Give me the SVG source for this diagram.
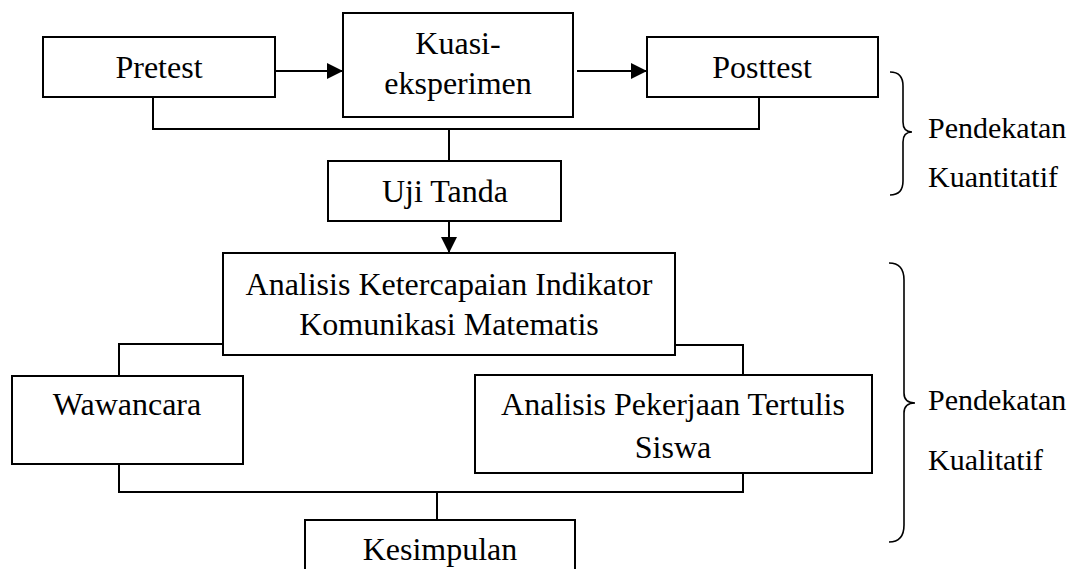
<svg xmlns="http://www.w3.org/2000/svg" width="1083" height="569" viewBox="0 0 1083 569">
<style>
.box{fill:#fff;stroke:#000;stroke-width:2}
.t{font-family:"Liberation Serif","Times New Roman",serif;font-size:32px;fill:#000;text-anchor:middle}
.tl{font-family:"Liberation Serif","Times New Roman",serif;font-size:30px;fill:#000}
.c{fill:none;stroke:#000;stroke-width:2}
.br{fill:none;stroke:#000;stroke-width:1.6}
</style>
<defs>
<marker id="ah" markerWidth="16" markerHeight="16" refX="16" refY="8" orient="auto" markerUnits="userSpaceOnUse">
<path d="M0,0 L16,8 L0,16 Z" fill="#000"/>
</marker>
</defs>
<g id="connectors">
<line class="c" x1="275" y1="71" x2="343" y2="71" marker-end="url(#ah)"/>
<line class="c" x1="577" y1="71" x2="647" y2="71" marker-end="url(#ah)"/>
<polyline class="c" points="153,97 153,129 759,129 759,97"/>
<line class="c" x1="449" y1="129" x2="449" y2="161"/>
<line class="c" x1="449" y1="221" x2="449" y2="253" marker-end="url(#ah)"/>
<polyline class="c" points="119,376 119,344 223,344"/>
<polyline class="c" points="675,345 743,345 743,375"/>
<polyline class="c" points="119,464 119,492 743,492 743,473"/>
<line class="c" x1="437" y1="492" x2="437" y2="520"/>
</g>
<g id="pretest"><rect class="box" x="43" y="37" width="232" height="60"/><text class="t" x="159" y="78">Pretest</text></g>
<g id="kuasi"><rect class="box" x="343" y="13" width="230" height="104"/><text class="t" x="458" y="54">Kuasi-</text><text class="t" x="458" y="94">eksperimen</text></g>
<g id="posttest"><rect class="box" x="647" y="37" width="231" height="60"/><text class="t" x="762" y="78">Posttest</text></g>
<g id="ujitanda"><rect class="box" x="328" y="161" width="233" height="60"/><text class="t" x="445" y="202">Uji Tanda</text></g>
<g id="analisis-ketercapaian"><rect class="box" x="223" y="253" width="452" height="102"/><text class="t" x="449" y="295">Analisis Ketercapaian Indikator</text><text class="t" x="449" y="335">Komunikasi Matematis</text></g>
<g id="wawancara"><rect class="box" x="12" y="376" width="231" height="88"/><text class="t" x="127" y="415">Wawancara</text></g>
<g id="analisis-pekerjaan"><rect class="box" x="475" y="375" width="397" height="98"/><text class="t" x="673" y="415">Analisis Pekerjaan Tertulis</text><text class="t" x="673" y="458">Siswa</text></g>
<g id="kesimpulan"><rect class="box" x="305" y="520" width="270" height="70"/><text class="t" x="440" y="560">Kesimpulan</text></g>
<g id="brace-kuantitatif">
<path class="br" d="M890,72 Q903,72 903,86 L903,122 Q903,132 912,132 Q903,132 903,142 L903,181 Q903,195 890,195"/>
<text class="tl" x="928" y="138">Pendekatan</text>
<text class="tl" x="928" y="187">Kuantitatif</text>
</g>
<g id="brace-kualitatif">
<path class="br" d="M889,263 Q904,263 904,280 L904,393 Q904,403 915,403 Q904,403 904,413 L904,525 Q904,542 889,542"/>
<text class="tl" x="928" y="410">Pendekatan</text>
<text class="tl" x="928" y="470">Kualitatif</text>
</g>
</svg>
